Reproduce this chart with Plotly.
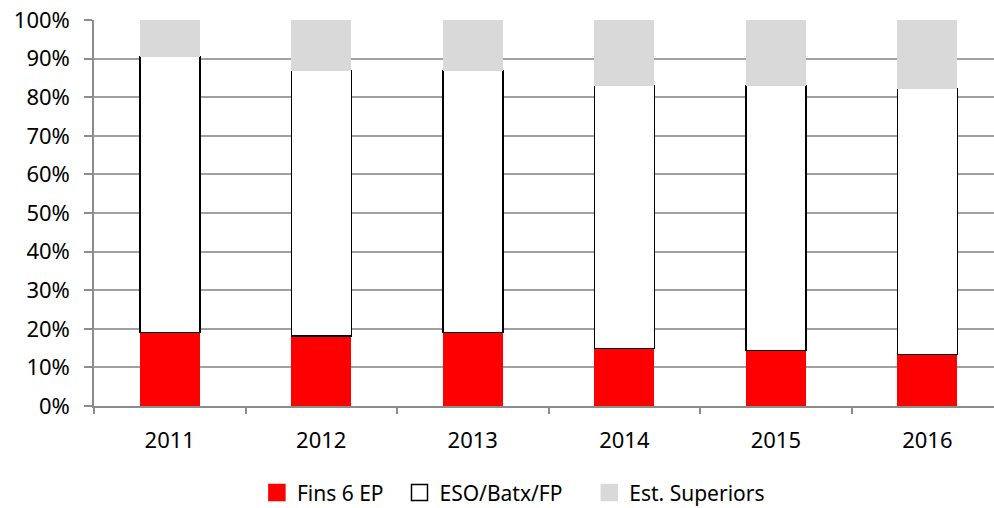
import plotly.graph_objects as go

years = ["2011", "2012", "2013", "2014", "2015", "2016"]
fins_6_ep = [19.1, 18.1, 19.0, 14.9, 14.4, 13.4]
eso_batx_fp = [71.4, 68.8, 67.9, 68.1, 68.6, 68.8]
est_superiors = [9.5, 13.1, 13.1, 17.0, 17.0, 17.8]

series_names = ["Fins 6 EP", "ESO/Batx/FP", "Est. Superiors"]
fill_colors = ["#ff0000", "#ffffff", "#d9d9d9"]
line_colors = ["#ff0000", "#000000", "#d9d9d9"]
line_widths = [0, 1.5, 0]
legend_pad = ["\u00a0\u00a0", "\u00a0\u00a0\u00a0\u00a0", ""]

FONT = "Noto Sans"

fig = go.Figure()
for vals, name, fc, lc, lw in zip([fins_6_ep, eso_batx_fp, est_superiors],
                                  series_names, fill_colors, line_colors, line_widths):
    fig.add_trace(go.Bar(x=years, y=vals, name=name, showlegend=False,
                         marker=dict(color=fc, line=dict(color=lc, width=lw))))

# legend entries with larger square symbols
for name, fc, lc, pad in zip(series_names, fill_colors, line_colors, legend_pad):
    fig.add_trace(go.Scatter(
        x=[None], y=[None], mode="markers", name=name + pad,
        marker=dict(symbol="square", size=16, color=fc,
                    line=dict(color=("#000000" if fc == "#ffffff" else fc), width=1.5)),
        hoverinfo="skip"))

fig.update_layout(
    width=994, height=508,
    barmode="stack", bargap=0.604,
    margin=dict(l=94, r=0, t=20, b=102),
    paper_bgcolor="white", plot_bgcolor="white",
    font=dict(family=FONT, size=22, color="#000000"),
    showlegend=True,
    legend=dict(orientation="h", x=0.466, xanchor="center",
                yref="container", y=0.03, yanchor="middle",
                font=dict(family=FONT, size=21), traceorder="normal", itemwidth=30,
                tracegroupgap=0),
)
fig.update_xaxes(
    type="category", range=[-0.5, 5.44], automargin=False,
    showline=True, linecolor="#8c8c8c", linewidth=1.5,
    ticks="outside", tickson="boundaries", ticklen=6, tickcolor="#8c8c8c", tickwidth=1.5,
    showgrid=False, ticklabelstandoff=14,
    tickfont=dict(family=FONT, size=22),
)
fig.update_yaxes(
    range=[0, 100], dtick=10, ticksuffix="%", automargin=False,
    showline=True, linecolor="#8c8c8c", linewidth=1.5,
    ticks="outside", ticklen=8, tickcolor="#8c8c8c", tickwidth=1.5,
    showgrid=True, gridcolor="#a0a0a0", gridwidth=1.5,
    ticklabelstandoff=10, zeroline=False,
    tickfont=dict(family=FONT, size=22),
)

fig.write_html("out.html", config={"displayModeBar": False},
               post_script="document.body.style.margin='0px';")
